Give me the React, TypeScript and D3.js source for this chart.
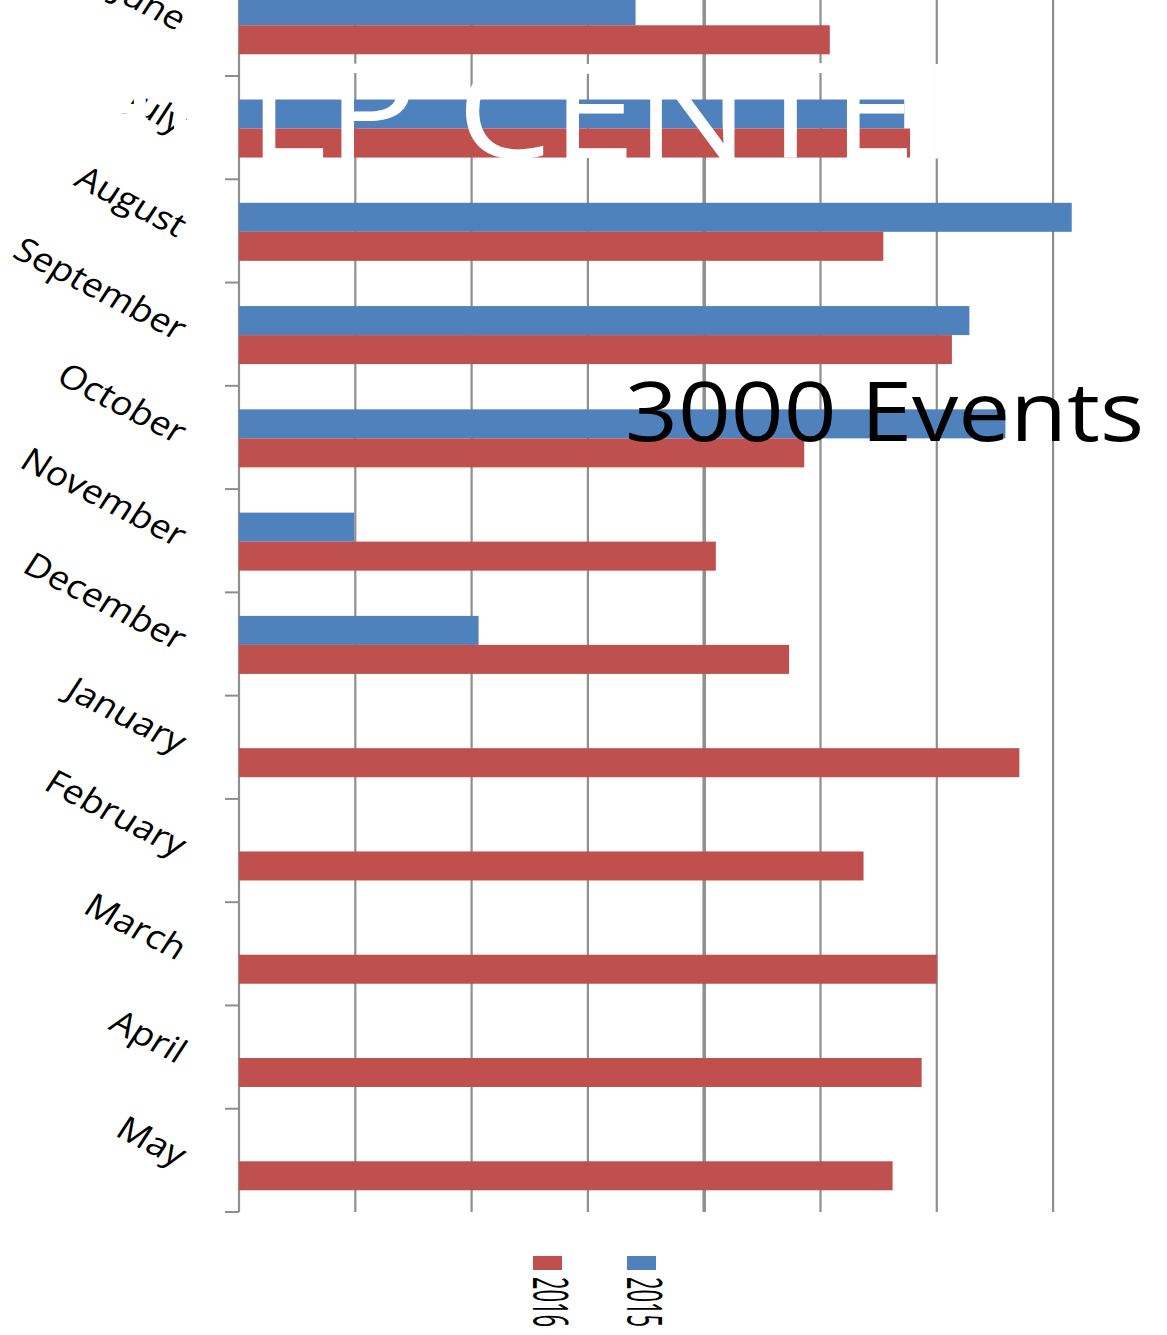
import * as d3 from 'd3';

const months = ['June', 'July', 'August', 'September', 'October', 'November', 'December', 'January', 'February', 'March', 'April', 'May'];
const series = ['2015', '2016'];
const events2015 = [341, 572, 716, 628, 659, 99, 206, null, null, null, null, null];
const events2016 = [508, 577, 554, 613, 486, 410, 473, 671, 537, 600, 587, 562];
const xTicks = [0, 100, 200, 300, 400, 500, 600, 700, 800];

const W = 1167;
const H = 1335;
const colors: Record<string, string> = { '2015': '#4F81BD', '2016': '#C0504D' };
const font = '"Open Sans", "DejaVu Sans", sans-serif';
const stretch = 1.13;

export default function App() {
  const plotLeft = 239;
  const plotBottom = 1212;
  const step = (plotBottom - 76) / 11;

  const x = d3.scaleLinear().domain([0, 800]).range([plotLeft, plotLeft + 8 * 116.3]);
  const y = d3.scaleBand<string>().domain(months).range([76 - step, plotBottom]).padding(0);
  const sub = d3.scaleBand<string>().domain(series).range([0, y.bandwidth()])
    .paddingInner(0).paddingOuter(0.78).align(0.52);

  const values: Record<string, (number | null)[]> = { '2015': events2015, '2016': events2016 };
  const boundaries = months.map(m => y(m)!).concat([plotBottom]);

  return (
    <svg width={W} height={H} style={{ position: 'absolute', left: 0, top: 0, background: '#fff' }}>
      <rect width={W} height={H} fill="#fff" />

      {/* vertical gridlines */}
      {xTicks.map(t => (
        <line key={t} x1={x(t)} x2={x(t)} y1={0} y2={plotBottom}
          stroke="#8f8f8f" strokeWidth={t === 400 ? 3.5 : 2.2} />
      ))}

      {/* category ticks on the left axis */}
      {boundaries.map((b, i) => (
        <line key={i} x1={225} x2={plotLeft} y1={b} y2={b} stroke="#8f8f8f" strokeWidth={2} />
      ))}

      {/* bars */}
      {series.map(s => (
        <g key={s} fill={colors[s]}>
          {months.map((m, i) => {
            const v = values[s][i];
            if (v == null) return null;
            return (
              <rect key={m} x={x(0)} y={y(m)! + sub(s)!} width={x(v) - x(0)} height={sub.bandwidth()} />
            );
          })}
        </g>
      ))}

      {/* month labels */}
      {months.map(m => {
        const cy = y(m)! + y.bandwidth() / 2;
        return (
          <text key={m} transform={`translate(177,${cy + 7}) scale(${stretch},1) rotate(30)`}
            textAnchor="end" fontFamily={font} fontSize={33} fill="#000">
            {m}
          </text>
        );
      })}

      {/* legend */}
      {['2016', '2015'].map((s, i) => {
        const lx = 533 + i * 94;
        return (
          <g key={s}>
            <rect x={lx} y={1256} width={29} height={14} fill={colors[s]} />
            <text transform={`translate(${lx},1277) scale(${stretch},0.51) rotate(90)`}
              fontFamily={font} fontSize={43} fill="#000">
              {s}
            </text>
          </g>
        );
      })}

      {/* overlay texts */}
      <g fontFamily={font} fontSize={131} fill="#fff">
        <text transform="translate(240,158) scale(1.1,1)" textAnchor="end">HE</text>
        <text x={248} y={158} textLength={668} lengthAdjust="spacingAndGlyphs">LP CENTE</text>
        <text transform="translate(921,158) scale(1.1,1)">R</text>
      </g>
      <text transform={`translate(625,441) scale(1.115,1)`} fontFamily={font}
        fontSize={83} fill="#000">
        3000 Events
      </text>
    </svg>
  );
}
